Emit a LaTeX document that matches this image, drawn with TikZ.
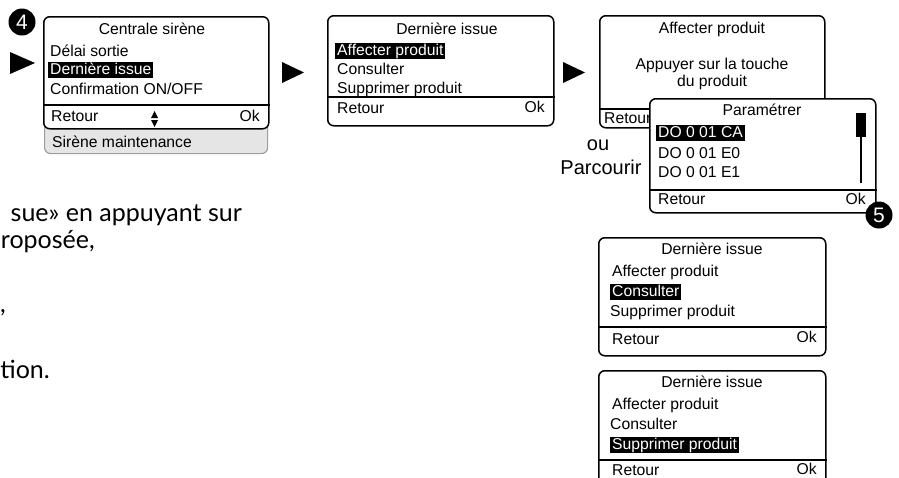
\documentclass[tikz,border=0pt]{standalone}
\usepackage{fontspec}
\setmainfont{Liberation Sans}
\newfontfamily\lato{Lato}
\usetikzlibrary{positioning}

\tikzset{
  ecran/.style={draw, line width=1.5pt, rounded corners=6pt, fill=white, anchor=north west, inner sep=0pt},
  ligne/.style={font=\fontsize{15.7}{18}\selectfont, anchor=west, inner sep=0pt, text height=11.5pt, text depth=3pt},
  sel/.style={ligne, fill=black, text=white, inner xsep=2pt, inner ysep=0.3pt},
  titre/.style={ligne, anchor=center},
  grand/.style={font=\fontsize{20}{22}\selectfont, inner sep=0pt},
  numero/.style={circle, fill=black, text=white, minimum size=27pt, inner sep=0pt, font=\fontsize{21}{21}\selectfont},
  texte/.style={font=\lato\fontsize{25}{28}\selectfont, anchor=base east, inner sep=0pt}
}

\begin{document}
\begin{tikzpicture}[x=1pt, y=-1pt]
    \useasboundingbox (0,0) rectangle (899,477);
    \clip (0,0) rectangle (899,477);

    % Onglet sous le premier ecran
    \node[ecran, draw=gray!75, fill=gray!20, line width=1.2pt, minimum width=223pt, minimum height=45pt] (onglet) at (44,108) {};
    \node[ligne] (onglet-t) at (52,143) {Sirène maintenance};

    % Ecran 1 : Centrale sirene
    \node[ecran, minimum width=225pt, minimum height=112pt] (centrale) at (43,16) {};
    \draw[line width=1.5pt] (centrale.west |- 0,105) -- (centrale.east |- 0,105);
    \node[titre] (centrale-t) at (152,30) {Centrale sirène};
    \node[ligne] (centrale-1) at (50,52) {Délai sortie};
    \node[sel] (centrale-2) at (48,70) {Dernière issue\hspace{3pt}};
    \node[ligne] (centrale-3) at (50,90) {Confirmation ON/OFF};
    \node[ligne] (centrale-r) at (51,117) {Retour};
    \node[ligne, anchor=east] (centrale-ok) at (260,117) {Ok};
    \fill (151,118) -- (158,118) -- (154.5,111) -- cycle;
    \fill (151,120) -- (158,120) -- (154.5,127) -- cycle;

    % Ecran 2 : Derniere issue
    \node[ecran, minimum width=226pt, minimum height=110pt] (issue) at (327,15) {};
    \draw[line width=1.5pt] (issue.west |- 0,97) -- (issue.east |- 0,97);
    \node[titre] (issue-t) at (447,30) {Dernière issue};
    \node[sel] (issue-1) at (335,51) {Affecter produit\hspace{3pt}};
    \node[ligne] (issue-2) at (337,70) {Consulter};
    \node[ligne] (issue-3) at (337,89) {Supprimer produit};
    \node[ligne] (issue-r) at (337,109) {Retour};
    \node[ligne, anchor=east] (issue-ok) at (545,108) {Ok};

    % Ecran 3 : Affecter produit
    \node[ecran, minimum width=225pt, minimum height=112pt] (affecter) at (599,15) {};
    \draw[line width=1.5pt] (affecter.west |- 0,109) -- (affecter.east |- 0,109);
    \node[titre] (affecter-t) at (712,29) {Affecter produit};
    \node[titre] (affecter-1) at (712,65) {Appuyer sur la touche};
    \node[titre] (affecter-2) at (712,82) {du produit};
    \node[ligne] (affecter-r) at (604,119) {Retour};

    % Ecran 4 : Parametrer
    \node[ecran, minimum width=226pt, minimum height=114pt] (param) at (649,98) {};
    \draw[line width=1.5pt] (param.west |- 0,190) -- (param.east |- 0,190);
    \node[titre] (param-t) at (762,111) {Paramétrer};
    \node[sel] (param-1) at (656,133) {DO 0 01 CA\hspace{5pt}};
    \node[ligne] (param-2) at (658,154) {DO 0 01 E0};
    \node[ligne] (param-3) at (658,173) {DO 0 01 E1};
    \node[ligne] (param-r) at (658,200) {Retour};
    \node[ligne, anchor=east] (param-ok) at (866,200) {Ok};
    \fill (856,113) rectangle (866,137);
    \draw[line width=1.5pt] (861,137) -- (861,183);

    \node[grand] (ou) at (598,145) {ou};
    \node[grand] (parcourir) at (601,167) {Parcourir};

    % Ecrans 5 et 6 : Consulter / Supprimer
    \foreach \y/\nom/\a/\b/\c in {237/consulter/ligne/sel/ligne, 370/supprimer/ligne/ligne/sel} {
        \node[ecran, minimum width=227pt, minimum height=118pt] (\nom) at (598,\y) {};
        \draw[line width=1.5pt] (\nom.west |- 0,\y+90) -- (\nom.east |- 0,\y+90);
        \node[titre] (\nom-t) at (712,\y+13) {Dernière issue};
        \node[\a] (\nom-1) at (612,\y+35) {Affecter produit};
        \node[\b, xshift=-2pt] (\nom-2) at (612,\y+55) {Consulter\hspace{3pt}};
        \node[\c, xshift=-2pt] (\nom-3) at (612,\y+75) {Supprimer produit\hspace{3pt}};
    }
    \node[ligne] (consulter-r) at (612,340) {Retour};
    \node[ligne, anchor=east] (consulter-ok) at (817,338) {Ok};
    \node[ligne, text depth=0pt, anchor=base west] (supprimer-r) at (612,475.5) {Retour};
    \node[ligne, text depth=0pt, anchor=base east] (supprimer-ok) at (817,474) {Ok};

    % Fleches et numeros
    \fill (10,52) -- (35,63) -- (10,74) -- cycle;
    \fill (282,62) -- (304,72.5) -- (282,83) -- cycle;
    \fill (563,62) -- (585,72.5) -- (563,83) -- cycle;
    \node[numero] (num4) at (22,22) {4};
    \node[numero] (num5) at (879,215) {5};

    % Texte coupe a gauche
    \node[texte] (txt1) at (242,221) {sue» en appuyant sur};
    \node[texte] (txt2) at (95,248) {roposée,};
    \node[texte] (txt3) at (6,312) {,};
    \node[texte] (txt4) at (50,378) {tion.};
\end{tikzpicture}
\end{document}
